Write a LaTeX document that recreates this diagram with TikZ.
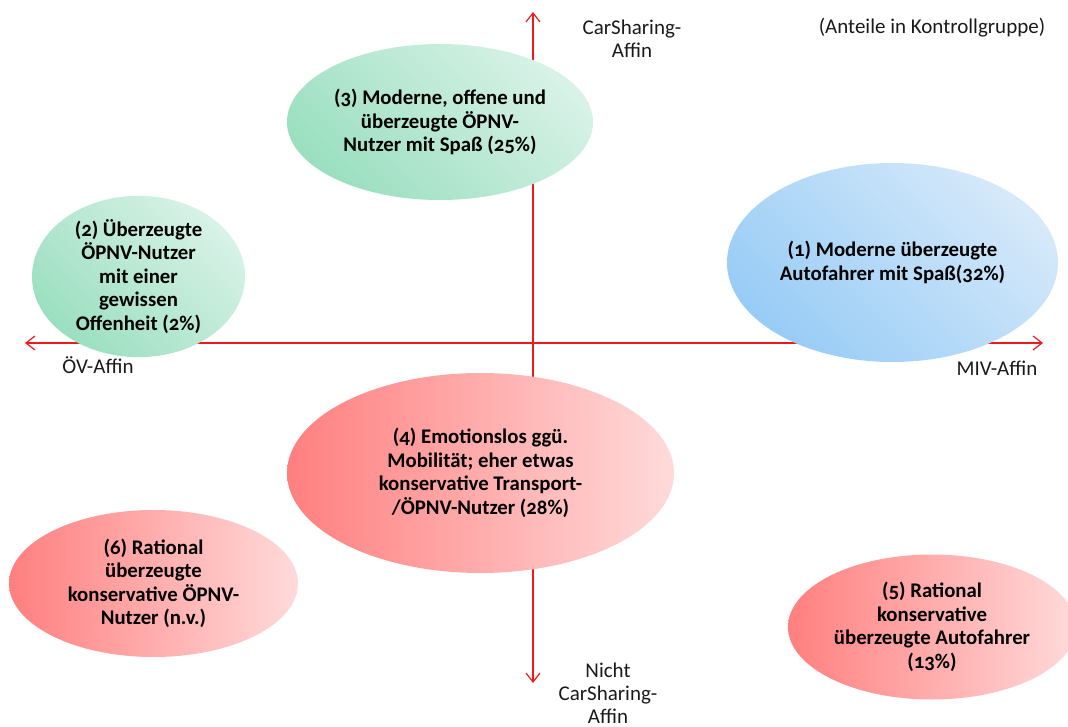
\documentclass[tikz,border=0pt]{standalone}
\usepackage{fontspec}
\setmainfont{Carlito}[Numbers=OldStyle]
\usetikzlibrary{shapes.geometric,arrows.meta}
\definecolor{axisred}{HTML}{F01818}
\definecolor{txt}{HTML}{1A1A1A}
\definecolor{gdark}{HTML}{9BDFC0}
\definecolor{glight}{HTML}{D8F2E7}
\definecolor{bdark}{HTML}{98CCF6}
\definecolor{blight}{HTML}{D6E9FA}
\definecolor{rdark}{HTML}{FF7F7F}
\definecolor{rlight}{HTML}{FFDADA}
\tikzset{
  axisline/.style={draw=axisred, line width=1.2pt, {Straight Barb[length=9pt,width=14pt]}-{Straight Barb[length=9pt,width=14pt]}},
  blob/.style={ellipse, inner sep=0pt, font=\bfseries\fontsize{20.8}{23.5}\selectfont, text=black, align=center},
  greenblob/.style={blob, top color=glight, bottom color=gdark, shading angle=-45},
  blueblob/.style={blob, top color=blight, bottom color=bdark, shading angle=-45},
  redblob/.style={blob, left color=rdark, right color=rlight},
  axislabel/.style={font=\fontsize{21}{23}\selectfont, text=txt, align=center, inner sep=0pt}
}
\begin{document}
\begin{tikzpicture}[x=1pt,y=-1pt]
\useasboundingbox (0,0) rectangle (1068,727);
\clip (0,0) rectangle (1068,727);
% axes
\coordinate (xl) at (25,343);
\coordinate (xr) at (1043,343);
\coordinate (yt) at (533,12);
\coordinate (yb) at (533,683);
\draw[axisline] (xl) -- (xr);
\draw[axisline] (yt) -- (yb);
% ellipses
\node[greenblob, minimum width=306pt, minimum height=156pt] (e3) at (440,122)
  {(3) Moderne, offene und\\überzeugte ÖPNV-\\Nutzer mit Spaß (25\%)};
\node[greenblob, minimum width=213pt, minimum height=133pt] (e2) at (138.5,276.5)
  {(2) Überzeugte\\ÖPNV-Nutzer\\mit einer\\gewissen\\Offenheit (2\%)};
\node[blueblob, minimum width=331pt, minimum height=199pt] (e1) at (892.5,262.5)
  {(1) Moderne überzeugte\\Autofahrer mit Spaß(32\%)};
\node[redblob, minimum width=387pt, minimum height=200pt] (e4) at (480.5,473)
  {(4) Emotionslos ggü.\\Mobilität; eher etwas\\konservative Transport-\\/ÖPNV-Nutzer (28\%)};
\node[redblob, minimum width=289pt, minimum height=147pt] (e6) at (153.5,583.5)
  {(6) Rational\\überzeugte\\konservative ÖPNV-\\Nutzer (n.v.)};
\node[redblob, minimum width=288pt, minimum height=145pt] (e5) at (932,627)
  {(5) Rational\\konservative\\überzeugte Autofahrer\\(13\%)};
% labels
\node[axislabel] (lcs) at (632,39) {CarSharing-\\Affin};
\node[axislabel] (lant) at (932,28) {(Anteile in Kontrollgruppe)};
\node[axislabel] (lov) at (98,365) {ÖV-Affin};
\node[axislabel] (lmiv) at (997,368) {MIV-Affin};
\node[axislabel] (lncs) at (608,693) {Nicht\\CarSharing-\\Affin};
\end{tikzpicture}
\end{document}
